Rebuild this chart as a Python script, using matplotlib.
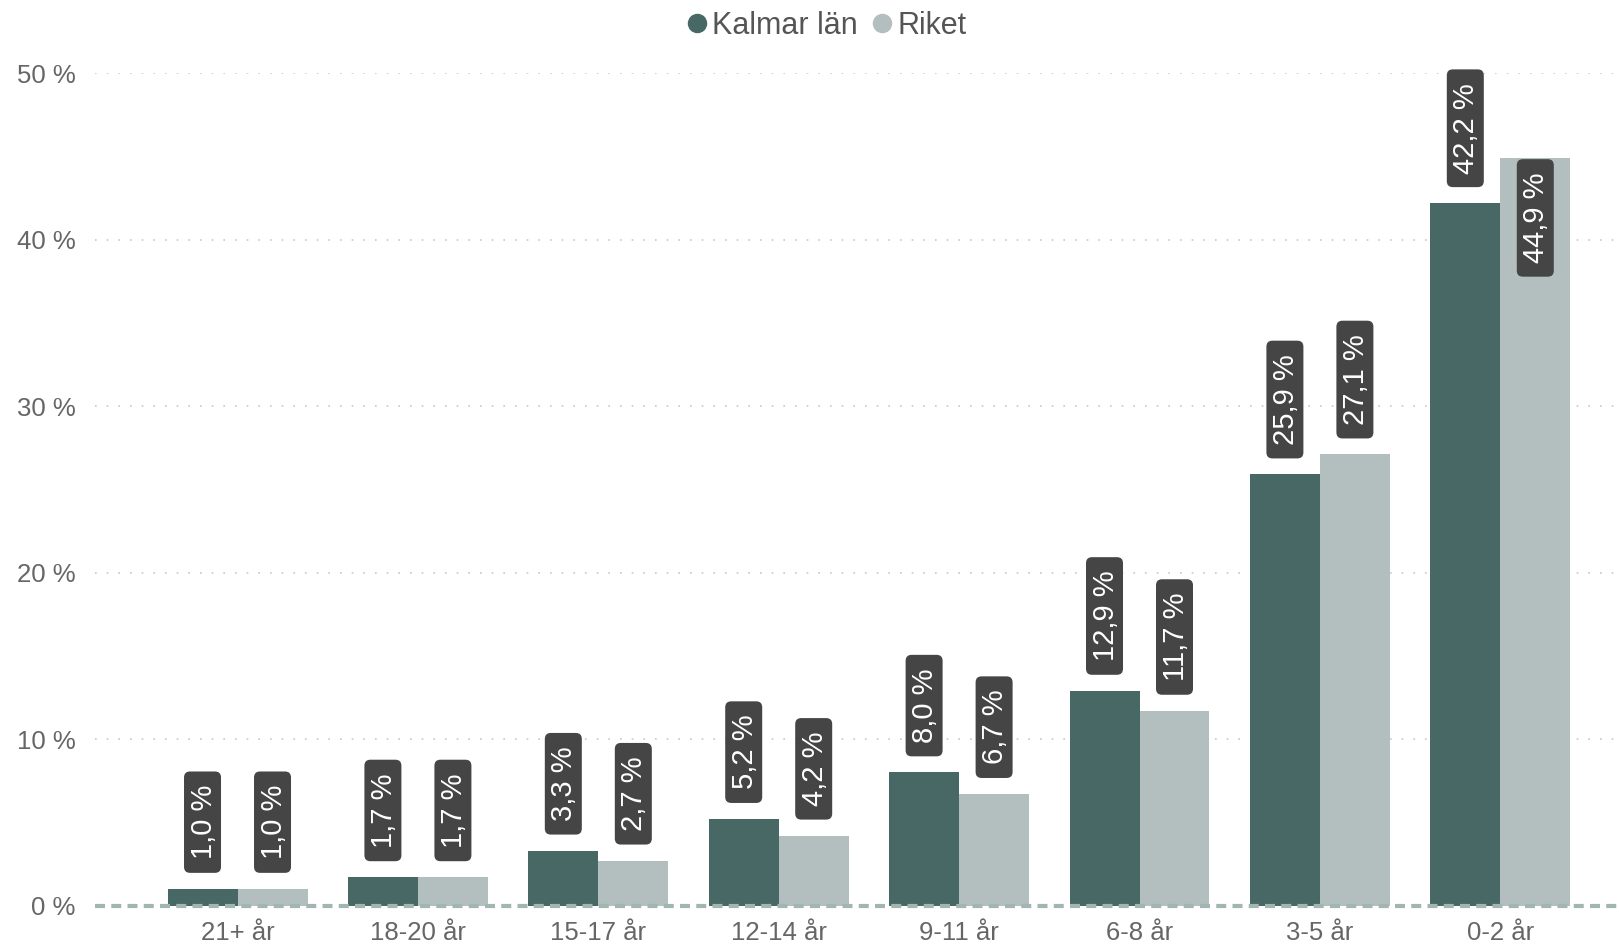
import matplotlib
matplotlib.use('Agg')
import numpy as np
import matplotlib.pyplot as plt
from matplotlib.lines import Line2D
from matplotlib.patches import FancyBboxPatch
from matplotlib.transforms import IdentityTransform

plt.rcParams['font.family'] = ['Liberation Sans', 'DejaVu Sans']

categories = ['21+ år', '18-20 år', '15-17 år', '12-14 år', '9-11 år', '6-8 år', '3-5 år', '0-2 år']
kalmar = [1.0, 1.7, 3.3, 5.2, 8.0, 12.9, 25.9, 42.2]
riket = [1.0, 1.7, 2.7, 4.2, 6.7, 11.7, 27.1, 44.9]
yticks = [0, 10, 20, 30, 40, 50]

c_kalmar = '#476864'
c_riket = '#b3bebe'
c_label = '#454545'
c_text = '#666666'

fig = plt.figure(figsize=(16.19, 9.44), dpi=100)
ax = fig.add_axes([95 / 1619, 38.5 / 944, 1 - 95 / 1619, 832.2 / 944])

x = np.arange(len(categories))
w = 0.388
b1 = ax.bar(x - w / 2, kalmar, w, color=c_kalmar, zorder=2)
b2 = ax.bar(x + w / 2, riket, w, color=c_riket, zorder=2)

ax.set_xlim(-0.79, 7.658)
ax.set_ylim(0, 50)
ax.set_yticks(yticks)
ax.set_yticklabels(['%d %%' % v for v in yticks])
ax.set_xticks(x)
ax.set_xticklabels(categories)
ax.tick_params(axis='y', length=0, pad=14, labelsize=18.5, labelcolor=c_text)
ax.tick_params(axis='x', length=0, pad=11, labelsize=18.5, labelcolor=c_text)
for s in ax.spines.values():
    s.set_visible(False)

# gridlines (dotted), zero line dashed
for v in yticks[1:]:
    ax.axhline(v, color='#c8c8c8', lw=1.2, ls=(0, (1, 6)), zorder=1)
ax.axhline(0, color='#a2b6b1', lw=3, ls=(0, (2.4, 1.5)), zorder=3, clip_on=False)

# legend
handles = [Line2D([], [], ls='none', marker='o', ms=13, color=c_kalmar),
           Line2D([], [], ls='none', marker='o', ms=13, color=c_riket)]
fig.legend(handles, ['Kalmar län', 'Riket'], loc='upper center', bbox_to_anchor=(0.508, 1.018),
           ncol=2, frameon=False, fontsize=22, labelcolor='#555555',
           handletextpad=-0.1, columnspacing=0.2, handlelength=1.2)

# data labels: dark rounded boxes with white rotated text
fig.canvas.draw()
renderer = fig.canvas.get_renderer()
gap = 16
padlen = 13.5
boxw = 37
for xs, vals in ((x - w / 2, kalmar), (x + w / 2, riket)):
    for xi, v in zip(xs, vals):
        px, py = ax.transData.transform((xi, v))
        t = ax.text(0, 0, ('%.1f %%' % v).replace('.', ','), rotation=90,
                    ha='center', va='center', color='white', fontsize=21,
                    transform=IdentityTransform(), zorder=6, clip_on=False)
        ext = t.get_window_extent(renderer)
        blen = ext.height + 2 * padlen
        top_px = ax.transData.transform((xi, 50))[1]
        if py + gap + blen > top_px + 2 * 16.6:
            y0 = py - 1 - blen
        else:
            y0 = py + gap
        box = FancyBboxPatch((px - boxw / 2, y0), boxw, blen,
                             boxstyle='round,pad=0,rounding_size=6',
                             fc=c_label, ec='none', transform=IdentityTransform(),
                             zorder=5, clip_on=False)
        ax.add_artist(box)
        t.set_position((px + 1, y0 + blen / 2))

fig.savefig('out.png', dpi=100)
